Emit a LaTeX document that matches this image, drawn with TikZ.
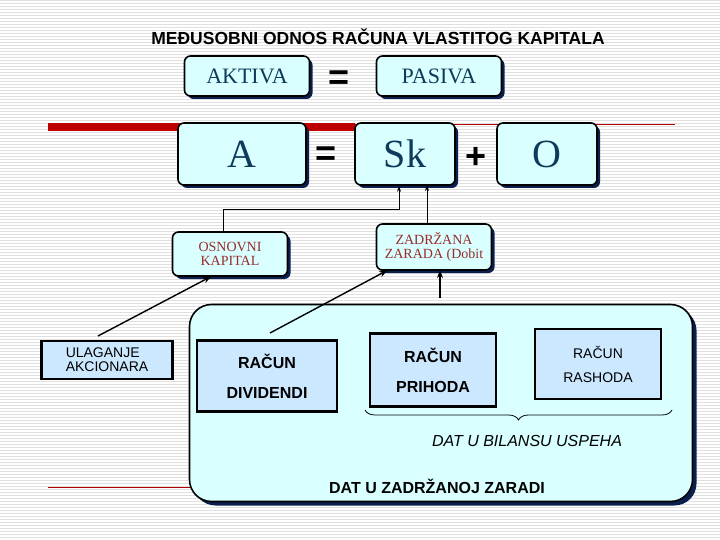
\documentclass[tikz,border=0pt]{standalone}
\usepackage{fontspec}
\setsansfont{Liberation Sans}
\setmainfont{Liberation Serif}
\usetikzlibrary{shadows,decorations.pathreplacing,arrows.meta}
\definecolor{navy}{HTML}{0B1F4F}
\definecolor{cyanf}{HTML}{D9FFFF}
\definecolor{bluef}{HTML}{CCE8FF}
\definecolor{txt}{HTML}{0E3A5C}
\definecolor{dred}{HTML}{9B2B2B}
\newcommand{\fs}[1]{\fontsize{#1}{#1}\selectfont}
\tikzset{
 rbox/.style={draw=black,line width=1.6pt,fill=cyanf,rounded corners=6pt,
   drop shadow={shadow xshift=3pt,shadow yshift=-3pt,fill=navy,opacity=1},
   inner sep=0pt,align=center},
 sbox/.style={draw=black,line width=2.2pt,fill=bluef,inner sep=0pt,align=center},
 conn/.style={line width=1.4pt,-{Stealth[length=9pt,width=6pt]}},
 thin/.style={line width=0.8pt},
}
\begin{document}
\begin{tikzpicture}[x=1pt,y=-1pt]
\useasboundingbox (0,0) rectangle (720,540);
\fill[white] (0,0) rectangle (720,540);
\foreach \i in {0,3,...,540} \draw[black!12,line width=0.5pt] (0,\i) -- (720,\i);
% red lines
\fill[red!75!black] (48,123) rectangle (355,131);
\draw[red!70!black,line width=0.5pt] (355,124) -- (675,124);
\draw[red!70!black,line width=0.5pt] (48,487) -- (190,487);
\node[font=\sffamily\bfseries\fs{17.5}] (title) at (378,37) {MEĐUSOBNI ODNOS RAČUNA VLASTITOG KAPITALA};
\node[rbox,minimum width=125pt,minimum height=40pt,font=\fs{22},text=txt] (akt) at (247,76) {AKTIVA};
\node[rbox,minimum width=125pt,minimum height=40pt,font=\fs{22},text=txt] (pas) at (439,76) {PASIVA};
\node[font=\sffamily\bfseries\fs{36}] (eq1) at (339,80) {=};
\node[rbox,minimum width=128pt,minimum height=62pt,font=\fs{40},text=txt] (A) at (242,154) {A};
\node[rbox,minimum width=100pt,minimum height=62pt,font=\fs{40},text=txt] (Sk) at (405,154) {Sk};
\node[rbox,minimum width=100pt,minimum height=62pt,font=\fs{40},text=txt] (O) at (547,154) {O};
\node[font=\sffamily\bfseries\fs{36}] (eq2) at (326,156) {=};
\node[font=\sffamily\bfseries\fs{36}] (plus) at (476,158) {+};
\node[rbox,minimum width=115pt,minimum height=44pt,font=\fs{14},text=dred] (osn) at (230,254) {OSNOVNI\\KAPITAL};
\node[rbox,minimum width=115pt,minimum height=46pt,font=\fs{14},text=dred] (zad) at (434,247) {ZADRŽANA\\ZARADA (Dobit};
\node[sbox,minimum width=131pt,minimum height=38pt,font=\sffamily\fs{14},align=left] (ula) at (107,360) {ULAGANJE\\AKCIONARA};
% panel
\node[draw=black,line width=1.6pt,fill=cyanf,rounded corners=22pt,
   drop shadow={shadow xshift=4pt,shadow yshift=-4pt,fill=navy,opacity=1},
   minimum width=503pt,minimum height=197pt] (panel) at (441,403) {};
\node[sbox,minimum width=140pt,minimum height=71pt,font=\sffamily\bfseries\fs{16}] (div) at (267,376) {RAČUN\\[14pt]DIVIDENDI};
\node[sbox,minimum width=126pt,minimum height=73pt,font=\sffamily\bfseries\fs{16}] (pri) at (433,370) {RAČUN\\[14pt]PRIHODA};
\node[sbox,minimum width=126pt,minimum height=70pt,font=\sffamily\fs{14}] (ras) at (598,364) {RAČUN\\[10pt]RASHODA};
\draw[thin,decorate,decoration={brace,mirror,amplitude=10pt}] (365,410) -- (672,410);
\node[font=\sffamily\itshape\fs{16}] (bil) at (527,441) {DAT U BILANSU USPEHA};
\node[font=\sffamily\bfseries\fs{16}] (zz) at (437,486) {DAT U ZADRŽANOJ ZARADI};
% connectors
\coordinate (j1) at (223,209);
\coordinate (j2) at (399,209);
\draw[thin,-{Stealth[length=6pt,width=4pt]}] (osn.north -| j1) -- (j1) -- (j2) -- (j2 |- Sk.south);
\draw[thin,-{Stealth[length=6pt,width=4pt]}] (zad.north -| 427,0) -- (427,185);
\draw[conn] (98,336) -- (212,276);
\coordinate (d0) at (270,333);
\draw[conn] (d0) -- (388,270);
\coordinate (p0) at (440,298);
\draw[line width=1.2pt,-{Stealth[length=8pt,width=6pt]}] (p0) -- (440,270);
\end{tikzpicture}
\end{document}
